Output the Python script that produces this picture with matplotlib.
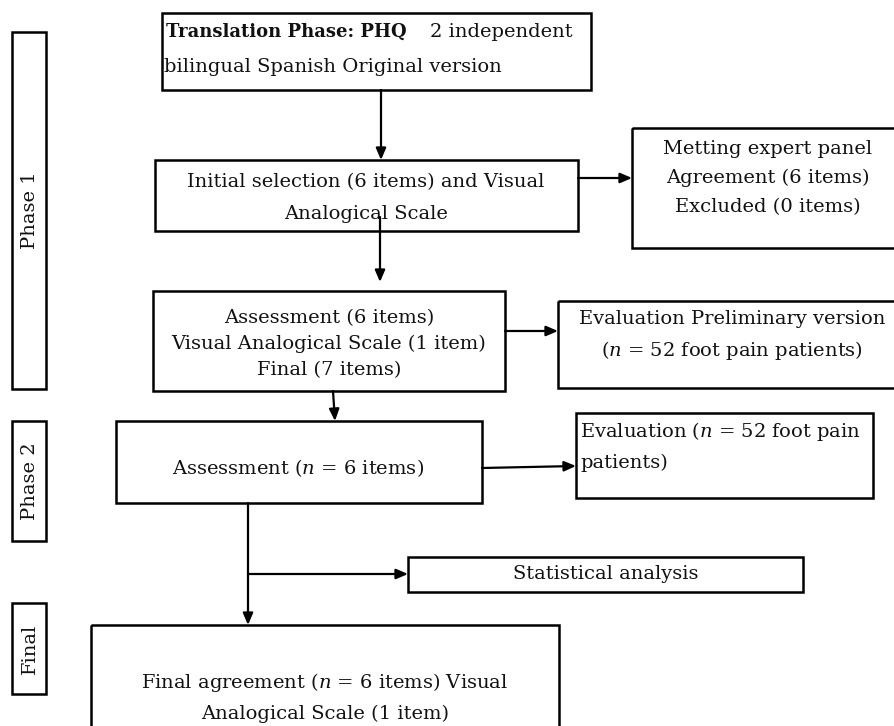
import matplotlib
matplotlib.use('agg')
import matplotlib.pyplot as plt
from matplotlib.patches import Rectangle

plt.rcParams['font.family'] = 'DejaVu Serif'
plt.rcParams['mathtext.fontset'] = 'dejavuserif'

# texts of the boxes
title_bold = "Translation Phase: PHQ"
title_rest = "2 independent"
title_line2 = "bilingual Spanish Original version"
box_texts = [
    "Initial selection (6 items) and Visual\nAnalogical Scale",
    "Metting expert panel\nAgreement (6 items)\nExcluded (0 items)",
    "Assessment (6 items)\nVisual Analogical Scale (1 item)\nFinal (7 items)",
    "Evaluation Preliminary version\n($\\it{n}$ = 52 foot pain patients)",
    "Assessment ($\\it{n}$ = 6 items)",
    "Evaluation ($\\it{n}$ = 52 foot pain\npatients)",
    "Statistical analysis",
    "Final agreement ($\\it{n}$ = 6 items) Visual\nAnalogical Scale (1 item)",
]
phase_labels = ["Phase 1", "Phase 2", "Final"]

# layout in pixels: x0, y0, x1, y1 of box, text x, text y, alignment, line spacing
title_box = (162, 13, 591, 90)
boxes = [
    (155, 160, 578, 231, 366, 198, 'center', 1.95),
    (632, 128, 900, 248, 768, 178, 'center', 1.75),
    (153, 291, 505, 391, 329, 344, 'center', 1.58),
    (558, 301, 900, 388, 732, 336, 'center', 1.6),
    (116, 421, 482, 503, 298, 468, 'center', 1.5),
    (576, 413, 873, 498, 580, 446, 'left', 1.8),
    (408, 557, 803, 592, 606, 574, 'center', 1.5),
    (91, 625, 559, 740, 325, 697, 'center', 1.75),
]
phase_boxes = [(12, 32, 46, 389), (12, 421, 46, 541), (12, 603, 46, 694)]

# arrows: x0, y0, x1, y1
arrows = [
    (381, 90, 381, 160),
    (578, 178, 632, 178),
    (380, 217, 380, 282),
    (505, 331, 558, 331),
    (333, 391, 335, 421),
    (482, 468, 576, 466),
    (248, 503, 248, 625),
    (248, 574, 408, 574),
]

fs = 14
fig = plt.figure(figsize=(8.94, 7.26), dpi=100)
ax = fig.add_axes([0, 0, 1, 1])
ax.set_xlim(0, 894)
ax.set_ylim(726, 0)
ax.axis('off')

lw = 1.8
x0, y0, x1, y1 = title_box
ax.add_patch(Rectangle((x0, y0), x1 - x0, y1 - y0, fill=False, lw=lw, ec='black'))
ax.text(166, 32, title_bold, ha='left', va='center', fontsize=13,
        fontweight='bold', color='#111111')
ax.text(430, 32, title_rest, ha='left', va='center', fontsize=fs, color='#111111')
ax.text(164, 67, title_line2, ha='left', va='center', fontsize=fs, color='#111111')

for (x0, y0, x1, y1, tx, ty, ha, ls), txt in zip(boxes, box_texts):
    ax.add_patch(Rectangle((x0, y0), x1 - x0, y1 - y0, fill=False, lw=lw, ec='black'))
    ax.text(tx, ty, txt, ha=ha, va='center', fontsize=fs, linespacing=ls,
            multialignment=ha, color='#111111')

for (x0, y0, x1, y1), lab in zip(phase_boxes, phase_labels):
    ax.add_patch(Rectangle((x0, y0), x1 - x0, y1 - y0, fill=False, lw=lw, ec='black'))
    ax.text((x0 + x1) / 2 + 1, (y0 + y1) / 2, lab, rotation=90, ha='center', va='center',
            fontsize=fs, color='#111111')

for x0, y0, x1, y1 in arrows:
    ax.annotate('', xy=(x1, y1), xytext=(x0, y0),
                arrowprops=dict(arrowstyle='-|>,head_length=0.7,head_width=0.3',
                                lw=1.6, color='black', shrinkA=0, shrinkB=0))

fig.savefig('out.png', dpi=100)
